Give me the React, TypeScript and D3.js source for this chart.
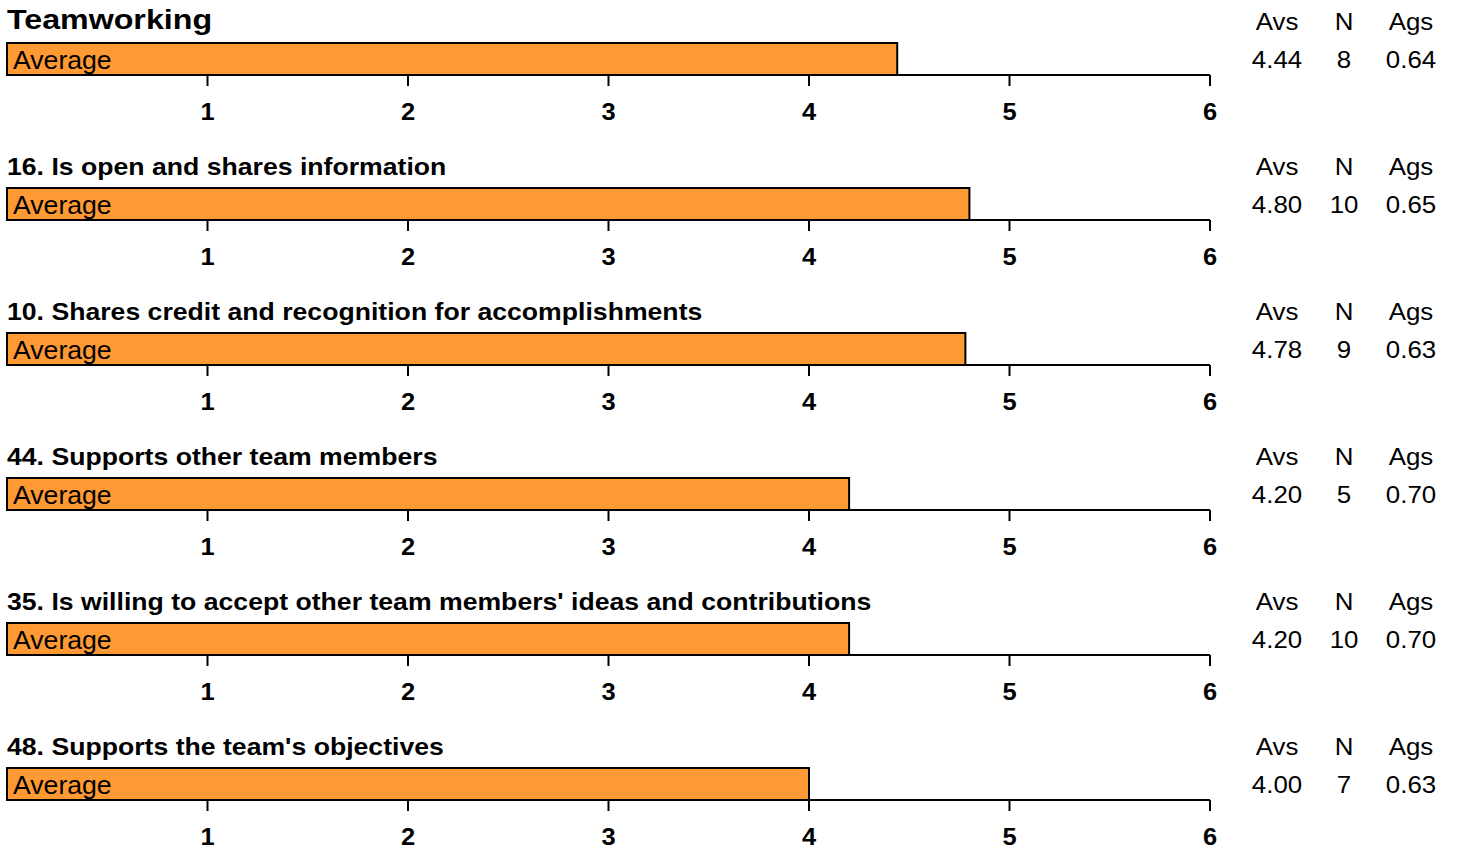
import React from "react";
import * as d3 from "d3";

// Survey items and their scores
const titles = [
  "Teamworking",
  "16. Is open and shares information",
  "10. Shares credit and recognition for accomplishments",
  "44. Supports other team members",
  "35. Is willing to accept other team members' ideas and contributions",
  "48. Supports the team's objectives",
];
const avsValues = [4.44, 4.8, 4.78, 4.2, 4.2, 4.0];
const nValues = [8, 10, 9, 5, 10, 7];
const agsValues = [0.64, 0.65, 0.63, 0.7, 0.7, 0.63];
const tickValues = [1, 2, 3, 4, 5, 6];
const statHeaders = ["Avs", "N", "Ags"];

const W = 1457;
const H = 850;
const PANEL_STEP = 145;
const FONT = "'Liberation Sans', Arial, Helvetica, sans-serif";

type LabelProps = {
  x: number;
  y: number;
  size: number;
  sx: number;
  bold?: boolean;
  anchor?: "start" | "middle" | "end";
  children: React.ReactNode;
};

// Text with a slight horizontal widening, anchored at (x, y)
function Label({ x, y, size, sx, bold, anchor = "start", children }: LabelProps) {
  return (
    <text
      transform={`translate(${x},${y}) scale(${sx},1)`}
      fontSize={size}
      fontWeight={bold ? "bold" : "normal"}
      textAnchor={anchor}
      fill="#000"
    >
      {children}
    </text>
  );
}

export default function App() {
  const x = d3.scaleLinear().domain([0, 6]).range([7, 1210]);
  const statX = [1277, 1344, 1411];

  return (
    <svg
      width={W}
      height={H}
      style={{ position: "absolute", left: 0, top: 0, background: "#fff" }}
      fontFamily={FONT}
    >
      {titles.map((title, i) => {
        const off = i * PANEL_STEP;
        const barTop = 43 + off;
        const axisY = 75 + off;
        const stats = [avsValues[i].toFixed(2), String(nValues[i]), agsValues[i].toFixed(2)];
        return (
          <g key={i}>
            {i === 0 ? (
              <Label x={7} y={29 + off} size={28} sx={1.15} bold>
                {title}
              </Label>
            ) : (
              <Label x={7} y={30 + off} size={24.5} sx={1.087} bold>
                {title}
              </Label>
            )}
            {/* axis baseline and ticks */}
            <line x1={x(0)} x2={x(6)} y1={axisY} y2={axisY} stroke="#000" strokeWidth={2} />
            {tickValues.map((t) => (
              <g key={t}>
                <line x1={x(t)} x2={x(t)} y1={axisY} y2={axisY + 11} stroke="#000" strokeWidth={2} />
                <Label x={x(t)} y={119.5 + off} size={24.5} sx={1.04} bold anchor="middle">
                  {t}
                </Label>
              </g>
            ))}
            {/* average bar */}
            <rect
              x={x(0)}
              y={barTop}
              width={x(avsValues[i]) - x(0)}
              height={axisY - barTop}
              fill="#FF9933"
              stroke="#000"
              strokeWidth={2}
            />
            <Label x={13} y={69 + off} size={25} sx={1.065}>
              Average
            </Label>
            {/* stats columns */}
            {statHeaders.map((h, j) => (
              <Label key={h} x={statX[j]} y={29.5 + off} size={23.5} sx={1.1} anchor="middle">
                {h}
              </Label>
            ))}
            {stats.map((s, j) => (
              <Label key={j} x={statX[j]} y={68 + off} size={23.5} sx={1.1} anchor="middle">
                {s}
              </Label>
            ))}
          </g>
        );
      })}
    </svg>
  );
}
